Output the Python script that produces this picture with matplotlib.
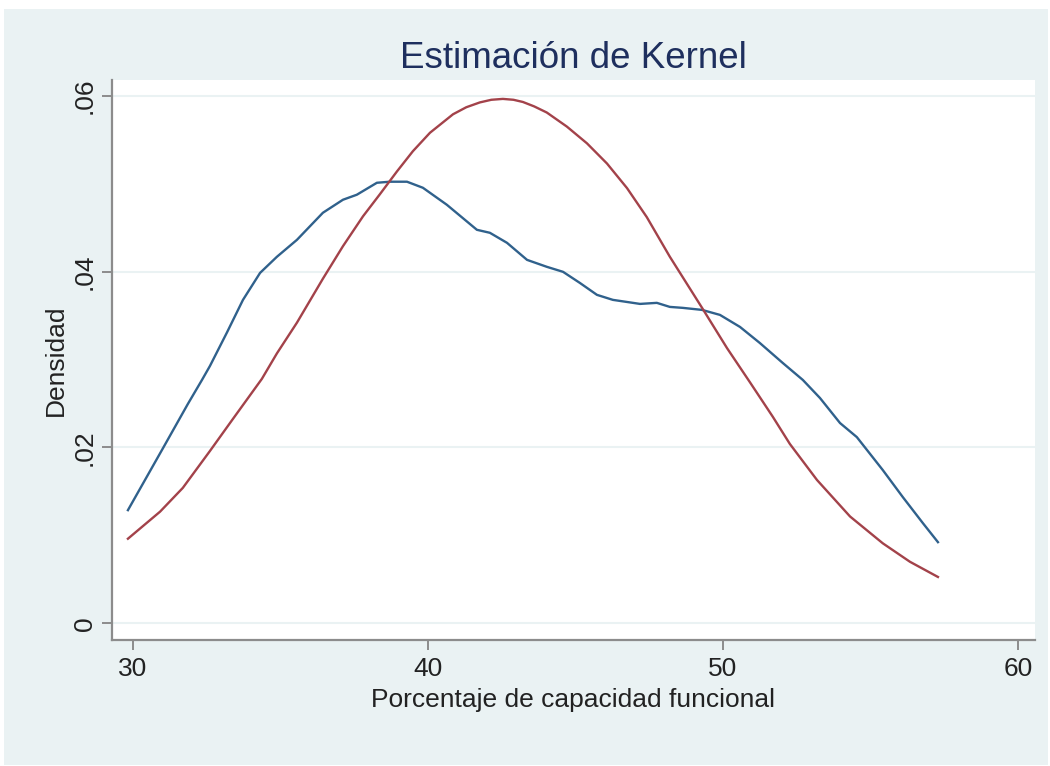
import matplotlib.pyplot as plt
from matplotlib.patches import Rectangle

# kernel density estimate
kd_x = [29.83, 31.02, 31.86, 32.34, 32.61, 33.19, 33.73, 34.31, 34.88, 35.56,
        36.44, 37.12, 37.59, 38.27, 38.71, 39.29, 39.83, 40.64, 41.66, 42.10,
        42.68, 43.36, 44.03, 44.58, 45.15, 45.73, 46.27, 47.19, 47.76, 48.20,
        48.64, 49.29, 49.90, 50.58, 51.25, 52.03, 52.71, 53.29, 53.97, 54.54,
        55.42, 56.10, 56.78, 57.29]
kd_y = [0.01287, 0.01993, 0.02494, 0.02768, 0.02927, 0.03310, 0.03679, 0.03986,
        0.04169, 0.04362, 0.04670, 0.04818, 0.04875, 0.05011, 0.05023, 0.05023,
        0.04954, 0.04761, 0.04476, 0.04442, 0.04328, 0.04134, 0.04055, 0.03998,
        0.03872, 0.03736, 0.03679, 0.03633, 0.03645, 0.03599, 0.03588, 0.03565,
        0.03508, 0.03371, 0.03189, 0.02961, 0.02768, 0.02563, 0.02278, 0.02118,
        0.01743, 0.01435, 0.01139, 0.00923]

# normal density overlay
nd_x = [29.83, 30.92, 31.69, 32.61, 33.39, 34.37, 34.88, 35.56, 36.44, 37.12,
        37.80, 38.37, 38.95, 39.49, 40.07, 40.85, 41.30, 41.76, 42.15, 42.54,
        42.90, 43.22, 43.60, 44.03, 44.71, 45.39, 46.07, 46.75, 47.42, 48.20,
        49.29, 50.14, 50.92, 51.69, 52.27, 53.19, 54.31, 55.42, 56.34, 57.29]
nd_y = [0.00962, 0.01270, 0.01540, 0.01960, 0.02325, 0.02780, 0.03070, 0.03420,
        0.03920, 0.04290, 0.04630, 0.04880, 0.05140, 0.05370, 0.05580, 0.05790,
        0.05870, 0.05925, 0.05955, 0.05965, 0.05955, 0.05930, 0.05880, 0.05810,
        0.05650, 0.05460, 0.05230, 0.04950, 0.04620, 0.04170, 0.03590, 0.03130,
        0.02740, 0.02350, 0.02040, 0.01630, 0.01215, 0.00910, 0.00700, 0.00527]

x_ticks = [30, 40, 50, 60]
y_ticks = [0, 0.02, 0.04, 0.06]
y_tick_labels = ['0', '.02', '.04', '.06']

BG = '#EAF2F3'
plt.rcParams['font.family'] = ['Liberation Sans', 'DejaVu Sans']

fig = plt.figure(figsize=(10.5, 7.66), dpi=100, facecolor='white')
# Stata-style light blue graph region with a thin white margin
fig.patches.append(Rectangle((4 / 1050, 1 / 766), 1044 / 1050, 756 / 766,
                             transform=fig.transFigure, facecolor=BG,
                             edgecolor='none', zorder=-5))

ax = fig.add_axes([112 / 1050, 1 - 640 / 766, 923 / 1050, 560 / 766])
ax.set_facecolor('white')

ax.plot(kd_x, kd_y, color='#30618C', lw=1.7, solid_joinstyle='round')
ax.plot(nd_x, nd_y, color='#A3424A', lw=1.7, solid_joinstyle='round')

ax.set_xlim(29.29, 60.58)
ax.set_ylim(-0.0019, 0.0618)
ax.set_xticks(x_ticks)
ax.set_yticks(y_ticks)
ax.set_yticklabels(y_tick_labels, rotation=90, va='center')

ax.grid(axis='y', color=BG, lw=1.5)
ax.set_axisbelow(True)

for side in ['top', 'right']:
    ax.spines[side].set_visible(False)
for side in ['left', 'bottom']:
    ax.spines[side].set_color('#8C8C8C')
    ax.spines[side].set_linewidth(1.6)

ax.tick_params(axis='both', direction='out', length=7.5, width=1.4,
               color='#8C8C8C', labelsize=19, labelcolor='#222222')
ax.tick_params(axis='x', pad=4.5)
ax.tick_params(axis='y', pad=3.5)

ax.set_xlabel('Porcentaje de capacidad funcional', fontsize=19, color='#222222')
ax.xaxis.set_label_coords(0.499, -0.0857)
ax.set_ylabel('Densidad', fontsize=19, color='#222222')
ax.yaxis.set_label_coords(-0.0481, 0.5)

fig.text((112 + 1035) / 2 / 1050, 1 - 68 / 766, 'Estimación de Kernel',
         ha='center', va='baseline', fontsize=26.5, color='#1E2F5E')

fig.savefig('out.png', dpi=100, facecolor='white')
